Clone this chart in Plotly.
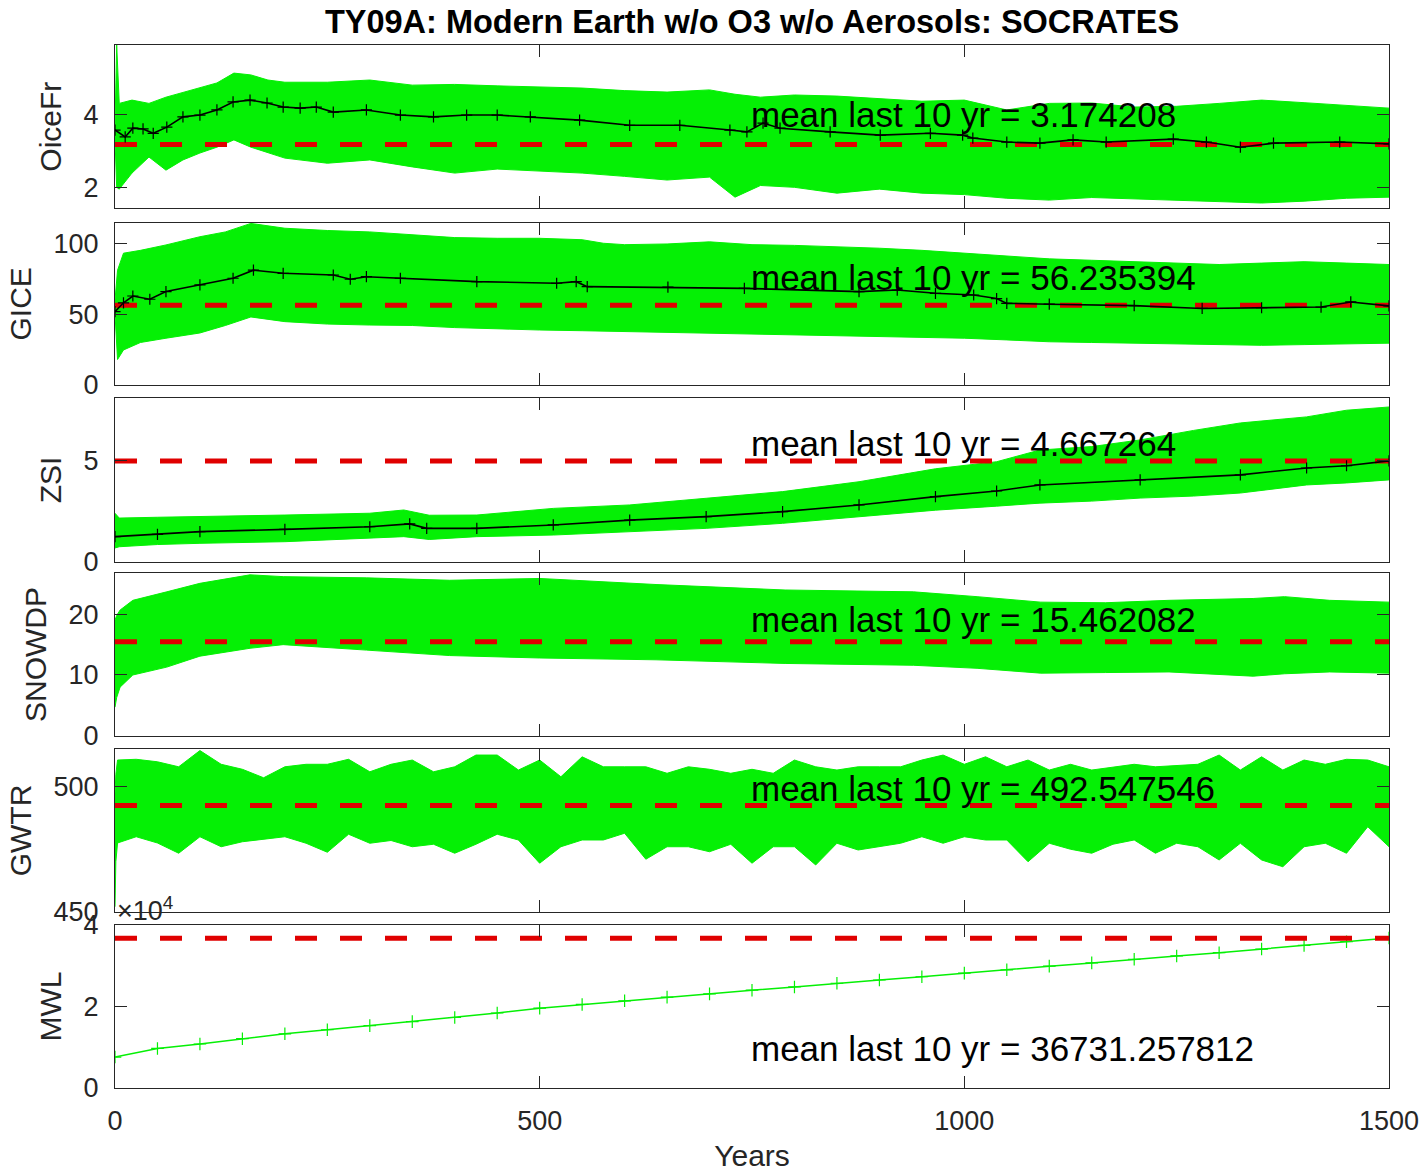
import plotly.graph_objects as go

# ---------------- data ----------------
var_names = ["OiceFr", "GICE", "ZSI", "SNOWDP", "GWTR", "MWL"]
mean_last10 = [3.174208, 56.235394, 4.667264, 15.462082, 492.547546, 36731.257812]
ref_line = [3.174208, 56.235394, 4.98, 15.462082, 492.547546, 36731.257812]

# OiceFr
oice_band_years = [0, 2, 5, 20, 40, 60, 80, 100, 120, 140, 160, 180, 200, 250, 300, 350, 400, 450, 500, 550,
                   600, 650, 700, 730, 760, 800, 850, 900, 950, 1000, 1050, 1100, 1150, 1200, 1250, 1300, 1350,
                   1400, 1450, 1500]
oice_upper = [3.7, 5.9, 4.3, 4.39, 4.3, 4.47, 4.6, 4.72, 4.86, 5.13, 5.08, 4.94, 4.88, 4.88, 4.94, 4.8, 4.82,
              4.78, 4.75, 4.72, 4.65, 4.61, 4.67, 4.55, 4.47, 4.53, 4.5, 4.42, 4.36, 4.39, 4.12, 4.3, 4.31,
              4.2, 4.22, 4.3, 4.39, 4.32, 4.25, 4.17]
oice_lower = [3.3, 2.0, 1.95, 2.39, 2.83, 2.47, 2.75, 2.94, 3.1, 3.3, 3.1, 2.94, 2.8, 2.66, 2.75, 2.56, 2.39,
              2.5, 2.45, 2.39, 2.3, 2.2, 2.28, 1.73, 2.05, 2.0, 1.84, 1.95, 1.84, 1.8, 1.7, 1.65, 1.72, 1.68,
              1.65, 1.6, 1.57, 1.62, 1.7, 1.73]
oice_mean_years = [0, 12, 21, 33, 45, 61, 80, 100, 120, 139, 159, 179, 198, 218, 237, 257, 296, 336, 375, 414,
                   450, 489, 547, 606, 665, 724, 744, 763, 783, 842, 901, 960, 998, 1010, 1050, 1089, 1128,
                   1167, 1246, 1285, 1325, 1364, 1442, 1500]
oice_mean = [3.57, 3.38, 3.62, 3.6, 3.48, 3.65, 3.93, 3.98, 4.12, 4.34, 4.39, 4.31, 4.2, 4.17, 4.2, 4.06, 4.12,
             3.98, 3.93, 3.98, 3.98, 3.93, 3.84, 3.7, 3.7, 3.57, 3.52, 3.76, 3.62, 3.52, 3.43, 3.48, 3.43,
             3.35, 3.24, 3.21, 3.3, 3.24, 3.32, 3.24, 3.1, 3.21, 3.24, 3.19]

# GICE
gice_band_years = [0, 3, 10, 30, 60, 100, 130, 160, 200, 250, 300, 350, 400, 450, 500, 550, 575, 600, 650, 700,
                   750, 800, 850, 900, 950, 1000, 1050, 1100, 1150, 1200, 1250, 1300, 1350, 1400, 1450, 1500]
gice_upper = [60, 81, 93, 95, 98.8, 104.6, 108, 114, 110.6, 109, 108, 105.9, 104, 103.5, 103.5, 102.5, 100, 99,
              99.5, 101, 99, 98.5, 97.6, 96.5, 95, 93, 91, 89, 88, 87, 86, 85, 86, 87, 86, 85]
gice_lower = [50, 18, 24.7, 30, 33, 36.7, 42, 48, 44.7, 43, 42.3, 42, 40.5, 39.5, 38.8, 38.3, 38, 37.6, 37,
              36.5, 36, 35.3, 34.7, 34.1, 33.5, 33, 31.8, 30.5, 30, 29.5, 29, 28.5, 28, 28.5, 29, 29.5]
gice_mean_years = [0, 10, 21, 41, 60, 100, 139, 163, 198, 257, 277, 296, 336, 426, 520, 543, 556, 651, 741,
                   876, 921, 966, 1011, 1038, 1050, 1100, 1200, 1280, 1350, 1420, 1455, 1500]
gice_mean = [51.7, 58, 62.8, 60.5, 65.9, 70.6, 75.3, 81, 78.8, 77.6, 74.6, 76.4, 75.3, 72.9, 71.8, 72.9, 69.4,
             69, 68.2, 65.9, 67, 64.7, 63.5, 61, 57.6, 57, 56, 54, 54.5, 55, 58.6, 55.8]

# ZSI
zsi_band_years = [0, 5, 50, 100, 200, 300, 340, 370, 426, 516, 606, 696, 786, 876, 966, 1038, 1089, 1150, 1207,
                  1270, 1325, 1403, 1450, 1500]
zsi_upper = [2.4, 2.16, 2.2, 2.23, 2.31, 2.4, 2.56, 2.3, 2.31, 2.64, 2.81, 3.14, 3.47, 3.96, 4.6, 4.95, 5.53,
             5.7, 6.03, 6.5, 6.87, 7.17, 7.5, 7.66]
zsi_lower = [0.68, 0.74, 0.85, 0.91, 0.99, 1.16, 1.24, 1.1, 1.24, 1.32, 1.49, 1.65, 1.9, 2.23, 2.55, 2.75, 2.9,
             3.0, 3.15, 3.25, 3.4, 3.8, 3.9, 4.05]
zsi_mean_years = [0, 50, 100, 200, 300, 347, 367, 426, 516, 606, 696, 786, 876, 966, 1038, 1089, 1207, 1325,
                  1403, 1450, 1500]
zsi_mean = [1.24, 1.35, 1.49, 1.6, 1.73, 1.87, 1.65, 1.65, 1.82, 2.06, 2.23, 2.48, 2.81, 3.22, 3.5, 3.8, 4.05,
            4.3, 4.64, 4.75, 4.99]

# SNOWDP
snow_band_years = [0, 2, 6, 21, 61, 100, 159, 198, 296, 394, 500, 637, 789, 940, 1015, 1090, 1166, 1241, 1340,
                   1377, 1430, 1500]
snow_upper = [19.05, 19.8, 20.7, 22.3, 23.7, 25.1, 26.5, 26.2, 26.0, 25.6, 25.9, 24.9, 24.0, 23.7, 22.9, 22.0,
              21.9, 22.3, 22.6, 22.9, 22.3, 22.0]
snow_lower = [4.7, 6.3, 8.0, 10.0, 11.3, 13.1, 14.4, 15.0, 14.1, 13.2, 12.8, 12.5, 11.9, 11.6, 11.1, 10.3, 10.4,
              10.5, 9.8, 10.2, 10.5, 10.3]

# GWTR
gwtr_band_years = [0, 1, 3, 25, 50, 75, 100, 125, 150, 175, 200, 225, 250, 275, 300, 325, 350, 375, 400, 425,
                   450, 475, 500, 525, 550, 575, 600, 625, 650, 675, 700, 725, 750, 775, 800, 825, 850, 875,
                   900, 925, 950, 975, 1000, 1025, 1050, 1075, 1100, 1125, 1150, 1175, 1200, 1225, 1250, 1275,
                   1300, 1325, 1350, 1375, 1400, 1425, 1450, 1475, 1500]
gwtr_upper = [497, 505, 510.7, 511, 510, 508, 514.5, 509, 507, 503.6, 508, 509, 509, 511, 506, 509, 510.7, 506,
              508, 512.7, 512.7, 506.7, 510.7, 504, 512, 508, 508, 508, 505.4, 508, 507, 505.4, 507, 505.4,
              510.7, 508, 506.7, 508, 508, 508, 510.7, 512.7, 509, 512, 508, 510.7, 506.7, 509, 506.7, 508,
              509, 508, 508.5, 509, 512.7, 506.7, 512, 506.7, 510.7, 509, 511, 510.7, 508]
gwtr_lower = [452, 470, 477.5, 480, 477.5, 473.4, 480, 476, 478, 479, 480, 477.4, 473.8, 481, 477.4, 478.5, 476,
              477, 473.4, 477, 481, 478.7, 469.4, 476, 478.7, 478.7, 481.4, 471, 476, 476, 474, 477, 469.4, 476,
              476, 468.7, 477.4, 474.7, 476, 477.4, 480, 477.4, 480, 478.7, 478.7, 470, 477.4, 475, 473.4, 477,
              478.7, 473.4, 477.4, 476, 470.7, 477.4, 470.7, 468, 476, 477.4, 473.4, 484, 476]

# MWL
mwl_years = [0, 50, 100, 150, 200, 250, 300, 350, 400, 450, 500, 550, 600, 650, 700, 750, 800, 850, 900, 950,
             1000, 1050, 1100, 1150, 1200, 1250, 1300, 1350, 1400, 1450, 1500]
mwl_values = [7600, 9700, 10800, 12100, 13300, 14300, 15300, 16300, 17300, 18400, 19600, 20500, 21400, 22300,
              23100, 24000, 24800, 25700, 26500, 27300, 28200, 29000, 29900, 30700, 31600, 32400, 33200, 34100,
              35000, 35900, 36800]

x_ticks = [0, 500, 1000, 1500]
y_ticks = [[2, 4], [0, 50, 100], [0, 5], [0, 10, 20], [450, 500], [0, 20000, 40000]]
y_ticktext = [["2", "4"], ["0", "50", "100"], ["0", "5"], ["0", "10", "20"], ["450", "500"], ["0", "2", "4"]]
y_ranges = [[1.425, 5.90], [0, 114.5], [0, 8.09], [0, 26.75], [450, 515], [0, 40000]]
text_y = [4.0, 75.5, 5.83, 19.2, 499.5, 9580]
text_x = 746
title_text = "TY09A: Modern Earth w/o O3 w/o Aerosols: SOCRATES"

# ---------------- figure ----------------
W, H = 1424, 1172
M_T, M_B, M_L, M_R = 45, 84, 115, 35
plot_h = H - M_T - M_B
panel_px = [(45, 208.3), (222.7, 385), (398.3, 561.7), (573.3, 735.7), (749.3, 911.7), (925, 1088)]

GREEN = "#05F005"
RED = "#E00000"
AXC = "#262626"
FONT = "Liberation Sans, Arial, Helvetica, sans-serif"

bands = [
    (oice_band_years, oice_upper, oice_lower),
    (gice_band_years, gice_upper, gice_lower),
    (zsi_band_years, zsi_upper, zsi_lower),
    (snow_band_years, snow_upper, snow_lower),
    (gwtr_band_years, gwtr_upper, gwtr_lower),
    None,
]
means = [(oice_mean_years, oice_mean), (gice_mean_years, gice_mean), (zsi_mean_years, zsi_mean),
         None, None, None]

fig = go.Figure()
layout = dict(
    width=W, height=H,
    margin=dict(l=M_L, r=M_R, t=M_T, b=M_B, autoexpand=False),
    paper_bgcolor="white", plot_bgcolor="white",
    showlegend=False,
    font=dict(family=FONT, color=AXC, size=27),
    title=dict(text=title_text, x=0.5, xref="paper", xanchor="center",
               y=1 - 22 / H, yanchor="middle",
               font=dict(family=FONT, size=32.5, color="black", weight="bold")),
    annotations=[],
)

for i, name in enumerate(var_names):
    k = i + 1
    xa = "x" if k == 1 else f"x{k}"
    ya = "y" if k == 1 else f"y{k}"
    top, bot = panel_px[i]
    dom = [(1088 - bot) / plot_h, (1088 - top) / plot_h]

    if bands[i] is not None:
        yrs, up, lo = bands[i]
        fig.add_trace(go.Scatter(x=yrs, y=lo, mode="lines", line=dict(color=GREEN, width=1),
                                 xaxis=xa, yaxis=ya, hoverinfo="skip"))
        fig.add_trace(go.Scatter(x=yrs, y=up, mode="lines", line=dict(color=GREEN, width=1),
                                 fill="tonexty", fillcolor=GREEN, xaxis=xa, yaxis=ya, hoverinfo="skip"))
    if name == "MWL":
        fig.add_trace(go.Scatter(x=mwl_years, y=mwl_values, mode="lines+markers",
                                 line=dict(color=GREEN, width=1.5),
                                 marker=dict(symbol="cross-thin", size=9, line=dict(color=GREEN, width=1.2)),
                                 xaxis=xa, yaxis=ya))

    fig.add_trace(go.Scatter(x=[0, 1500], y=[ref_line[i], ref_line[i]], mode="lines",
                             line=dict(color=RED, width=5, dash="22px,23px"),
                             xaxis=xa, yaxis=ya, hoverinfo="skip"))

    if means[i] is not None:
        my, mv = means[i]
        fig.add_trace(go.Scatter(x=my, y=mv, mode="lines+markers",
                                 line=dict(color="black", width=1.6),
                                 marker=dict(symbol="cross-thin", size=8, line=dict(color="black", width=1.2)),
                                 xaxis=xa, yaxis=ya))

    xaxis = dict(
        domain=[0, 1], anchor=ya, range=[0, 1500], automargin=False,
        tickvals=x_ticks, ticktext=[str(v) for v in x_ticks],
        showticklabels=(k == 6), ticks="inside", ticklen=12, tickwidth=1.2, tickcolor=AXC,
        showline=True, linecolor=AXC, linewidth=1.3, mirror="ticks",
        showgrid=False, zeroline=False,
        tickfont=dict(size=27, color=AXC), ticklabelstandoff=8,
    )
    if k == 6:
        xaxis["title"] = dict(text="Years", font=dict(size=30, color=AXC), standoff=14)
    else:
        xaxis["matches"] = "x6"
    layout["xaxis" if k == 1 else f"xaxis{k}"] = xaxis
    layout["yaxis" if k == 1 else f"yaxis{k}"] = dict(
        domain=dom, anchor=xa, range=y_ranges[i], automargin=False,
        tickvals=y_ticks[i], ticktext=y_ticktext[i],
        ticks="inside", ticklen=12, tickwidth=1.2, tickcolor=AXC,
        showline=True, linecolor=AXC, linewidth=1.3, mirror="ticks",
        showgrid=False, zeroline=False,
        tickfont=dict(size=27, color=AXC), ticklabelstandoff=10,
        title=dict(text=name, font=dict(size=30, color=AXC), standoff=12),
    )
    layout["annotations"].append(dict(
        x=text_x, y=text_y[i], xref=xa, yref=ya, xanchor="left", yanchor="middle",
        text=f"mean last 10 yr = {mean_last10[i]:.6f}", showarrow=False,
        font=dict(family=FONT, size=35, color="black"),
    ))

layout["annotations"].append(dict(
    x=0, y=(1088 - 909) / plot_h, xref="paper", yref="paper", xanchor="left", yanchor="middle",
    text="×10<sup>4</sup>", showarrow=False, font=dict(family=FONT, size=27, color=AXC),
))

fig.update_layout(**layout)
fig.write_html("out.html")
